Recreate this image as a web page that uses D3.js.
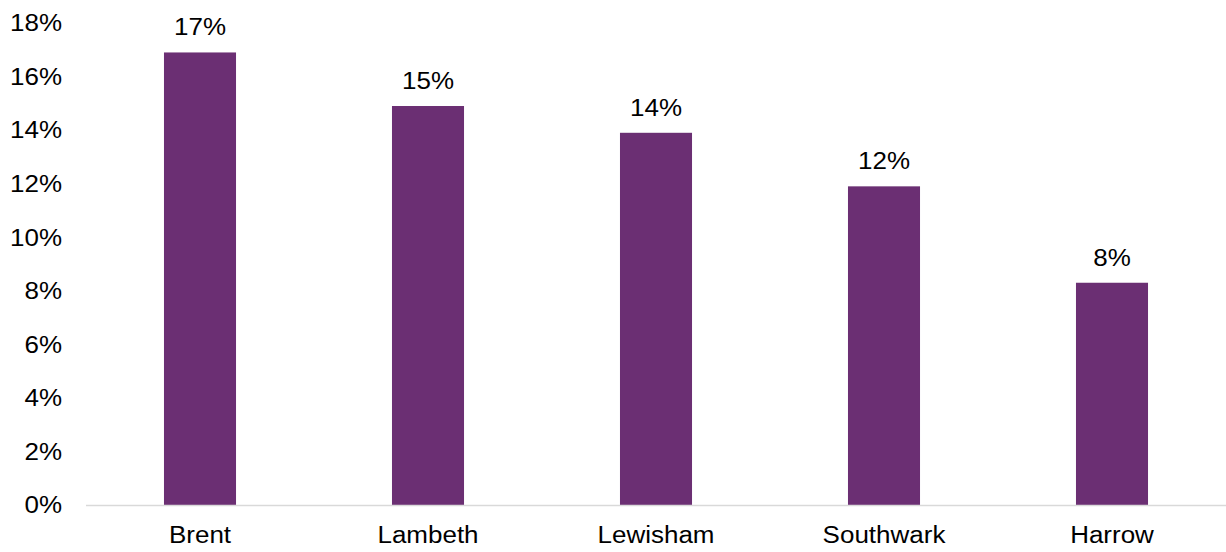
<!DOCTYPE html>
<html><head><meta charset="utf-8">
<script src="https://cdn.jsdelivr.net/npm/d3@7"></script>
<style>body{margin:0;background:#fff}svg{display:block}text{font-family:"Liberation Sans",Arial,sans-serif;fill:#000}</style>
</head><body>
<svg id="c" width="1226" height="552"></svg>
<script>
const categories = ["Brent","Lambeth","Lewisham","Southwark","Harrow"];
const values = [0.169, 0.149, 0.139, 0.119, 0.083];
const yTicks = [0,0.02,0.04,0.06,0.08,0.10,0.12,0.14,0.16,0.18];

const svg = d3.select("#c");
const fs = 23, sx = 1.13;
const x = d3.scaleBand().domain(categories).range([86,1226]).paddingInner(0.684).paddingOuter(0.342);
const y = d3.scaleLinear().domain([0,0.18]).range([505,23]);
const fmt = d3.format(".0%");

function stretched(sel, px, py, anchor, txt){
  sel.append("text").attr("transform",`translate(${px},${py}) scale(${sx},1)`)
    .attr("text-anchor",anchor).attr("font-size",fs).text(txt);
}
// y labels
const gy = svg.append("g");
yTicks.forEach(t => stretched(gy, 62, y(t)+8.3, "end", fmt(t)));
// bars
svg.append("g").selectAll("rect").data(values).join("rect")
  .attr("x",(d,i)=>x(categories[i])).attr("width",x.bandwidth())
  .attr("y",d=>y(d)).attr("height",d=>y(0)-y(d)).attr("fill","#6B2F73");
// axis line
svg.append("line").attr("x1",86).attr("x2",1226).attr("y1",y(0)+0.5).attr("y2",y(0)+0.5)
  .attr("stroke","#d9d9d9").attr("stroke-width",1.5);
// value labels
const gv = svg.append("g");
values.forEach((v,i)=> stretched(gv, x(categories[i])+x.bandwidth()/2, y(v)-17, "middle", fmt(v)));
// x labels
const gx = svg.append("g");
categories.forEach(c => stretched(gx, x(c)+x.bandwidth()/2, 543, "middle", c));
</script>
</body></html>
